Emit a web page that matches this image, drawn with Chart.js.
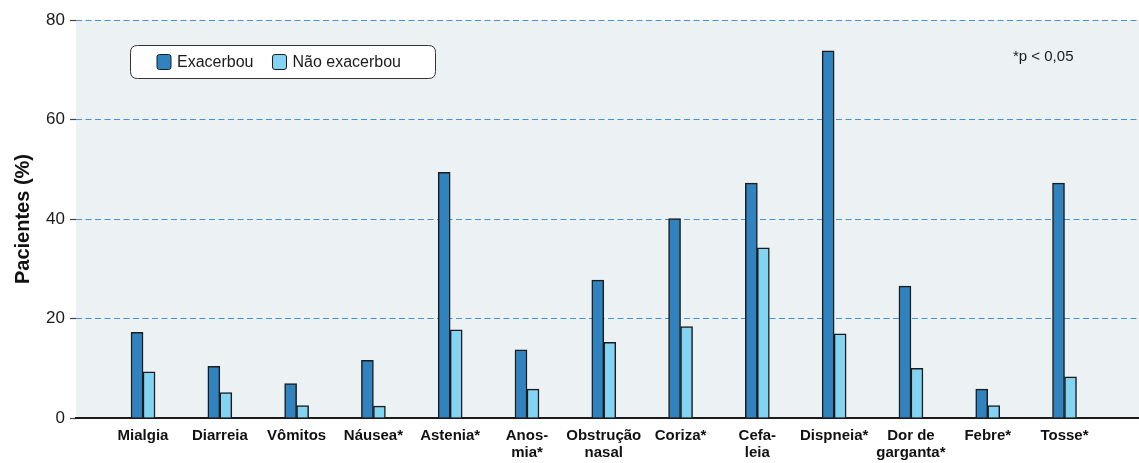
<!DOCTYPE html>
<html lang="pt">
<head>
<meta charset="utf-8">
<title>Pacientes (%) por sintoma</title>
<script src="https://cdn.jsdelivr.net/npm/chart.js@4/dist/chart.umd.min.js"></script>
<style>
  html, body { margin: 0; padding: 0; background: #ffffff; }
  #wrap { width: 1139px; height: 463px; position: relative; }
</style>
</head>
<body>
<div id="wrap"><canvas id="chart" width="1139" height="463"></canvas></div>
<script>
// Sintomas (rótulos do eixo x; arrays = quebra de linha)
const categories = [
  'Mialgia', 'Diarreia', 'Vômitos', 'Náusea*', 'Astenia*',
  ['Anos-', 'mia*'], ['Obstrução', 'nasal'], 'Coriza*', ['Cefa-', 'leia'],
  'Dispneia*', ['Dor de', 'garganta*'], 'Febre*', 'Tosse*'
];

// Percentual de pacientes
const exacerbou    = [17.2, 10.4, 6.9, 11.6, 49.4, 13.7, 27.7, 40.1, 47.2, 73.8, 26.5, 5.8, 47.2];
const naoExacerbou = [ 9.3,  5.1, 2.5,  2.4, 17.7,  5.8, 15.2, 18.4, 34.2, 16.9, 10.0, 2.5,  8.3];

const seriesNames = ['Exacerbou', 'Não exacerbou'];
const yTicks = [0, 20, 40, 60, 80];
const footnote = '*p < 0,05';

const FONT = "'Liberation Sans', Arial, Helvetica, sans-serif";
const DARK = '#3183c0';
const LIGHT = '#83d4f3';
const EDGE = '#1c1c1c';

const toPoints = arr => arr.map((v, i) => ({ x: i, y: v }));

// Fundo da área de plotagem
const plotBackground = {
  id: 'plotBackground',
  beforeDraw(chart) {
    const { ctx, chartArea: a } = chart;
    ctx.save();
    ctx.fillStyle = '#ecf1f4';
    ctx.fillRect(a.left, a.top, a.right - a.left, a.bottom - a.top);
    ctx.restore();
  }
};

function roundRect(ctx, x, y, w, h, r) {
  ctx.beginPath();
  ctx.moveTo(x + r, y);
  ctx.lineTo(x + w - r, y);
  ctx.quadraticCurveTo(x + w, y, x + w, y + r);
  ctx.lineTo(x + w, y + h - r);
  ctx.quadraticCurveTo(x + w, y + h, x + w - r, y + h);
  ctx.lineTo(x + r, y + h);
  ctx.quadraticCurveTo(x, y + h, x, y + h - r);
  ctx.lineTo(x, y + r);
  ctx.quadraticCurveTo(x, y, x + r, y);
  ctx.closePath();
}

// Legenda em caixa arredondada + nota de significância
const boxedLegend = {
  id: 'boxedLegend',
  afterDraw(chart) {
    const { ctx, chartArea: a } = chart;
    ctx.save();
    const bx = a.left + 54.5, by = a.top + 25.5, bw = 305, bh = 33;
    roundRect(ctx, bx, by, bw, bh, 7);
    ctx.fillStyle = '#ffffff';
    ctx.fill();
    ctx.lineWidth = 1;
    ctx.strokeStyle = '#333333';
    ctx.stroke();

    ctx.font = '16px ' + FONT;
    ctx.textBaseline = 'middle';
    ctx.textAlign = 'left';
    const cy = by + bh / 2;
    let x = bx + 26.5;
    chart.data.datasets.forEach((ds, i) => {
      roundRect(ctx, x, cy - 7.5, 14, 15, 2.5);
      ctx.fillStyle = ds.backgroundColor;
      ctx.fill();
      ctx.strokeStyle = EDGE;
      ctx.lineWidth = 1;
      ctx.stroke();
      ctx.fillStyle = '#1a1a1a';
      ctx.fillText(seriesNames[i], x + 20, cy + 0.5);
      x += 20 + ctx.measureText(seriesNames[i]).width + 19;
    });

    ctx.font = '15px ' + FONT;
    ctx.fillStyle = '#1a1a1a';
    ctx.textAlign = 'left';
    ctx.fillText(footnote, 1013, a.top + 37);
    ctx.restore();
  }
};

new Chart(document.getElementById('chart'), {
  type: 'bar',
  data: {
    datasets: [
      {
        label: seriesNames[0],
        data: toPoints(exacerbou),
        backgroundColor: DARK,
        borderColor: EDGE,
        borderWidth: 1.5,
        barThickness: 12
      },
      {
        label: seriesNames[1],
        data: toPoints(naoExacerbou),
        backgroundColor: LIGHT,
        borderColor: EDGE,
        borderWidth: 1.5,
        barThickness: 12
      }
    ]
  },
  options: {
    responsive: false,
    animation: false,
    devicePixelRatio: 1,
    layout: { padding: { top: 20, right: 0, bottom: 0, left: 0 } },
    plugins: {
      legend: { display: false },
      tooltip: { enabled: false }
    },
    scales: {
      x: {
        type: 'linear',
        offset: false,
        min: -0.873,
        max: 12.97,
        afterBuildTicks(scale) {
          scale.ticks = categories.map((_, i) => ({ value: i }));
        },
        afterFit(scale) { scale.height = 45; },
        grid: { display: false, drawTicks: false, offset: false },
        border: { display: true, color: '#1c1c1c', width: 2 },
        ticks: {
          autoSkip: false,
          maxRotation: 0,
          padding: 9,
          color: '#111111',
          font: { family: FONT, size: 15, weight: 'bold', lineHeight: 1.13 },
          callback: (v) => categories[v]
        }
      },
      y: {
        min: 0,
        max: 80,
        afterBuildTicks(scale) {
          scale.ticks = yTicks.map(v => ({ value: v }));
        },
        afterFit(scale) { scale.width = 76; },
        border: { display: false, dash: [6, 3.5] },
        grid: {
          color: (c) => c.tick && c.tick.value === 0 ? 'rgba(0,0,0,0)' : '#4690d4',
          lineWidth: 1,
          drawTicks: true,
          tickLength: 6,
          tickColor: '#444444',
          tickBorderDash: [],
          tickWidth: 1.2
        },
        ticks: {
          padding: 5,
          color: '#1a1a1a',
          font: { family: FONT, size: 17 }
        },
        title: {
          display: true,
          text: 'Pacientes (%)',
          color: '#111111',
          font: { family: FONT, size: 20, weight: 'bold' },
          padding: { top: 11, bottom: 0 }
        }
      }
    }
  },
  plugins: [plotBackground, boxedLegend]
});
</script>
</body>
</html>
